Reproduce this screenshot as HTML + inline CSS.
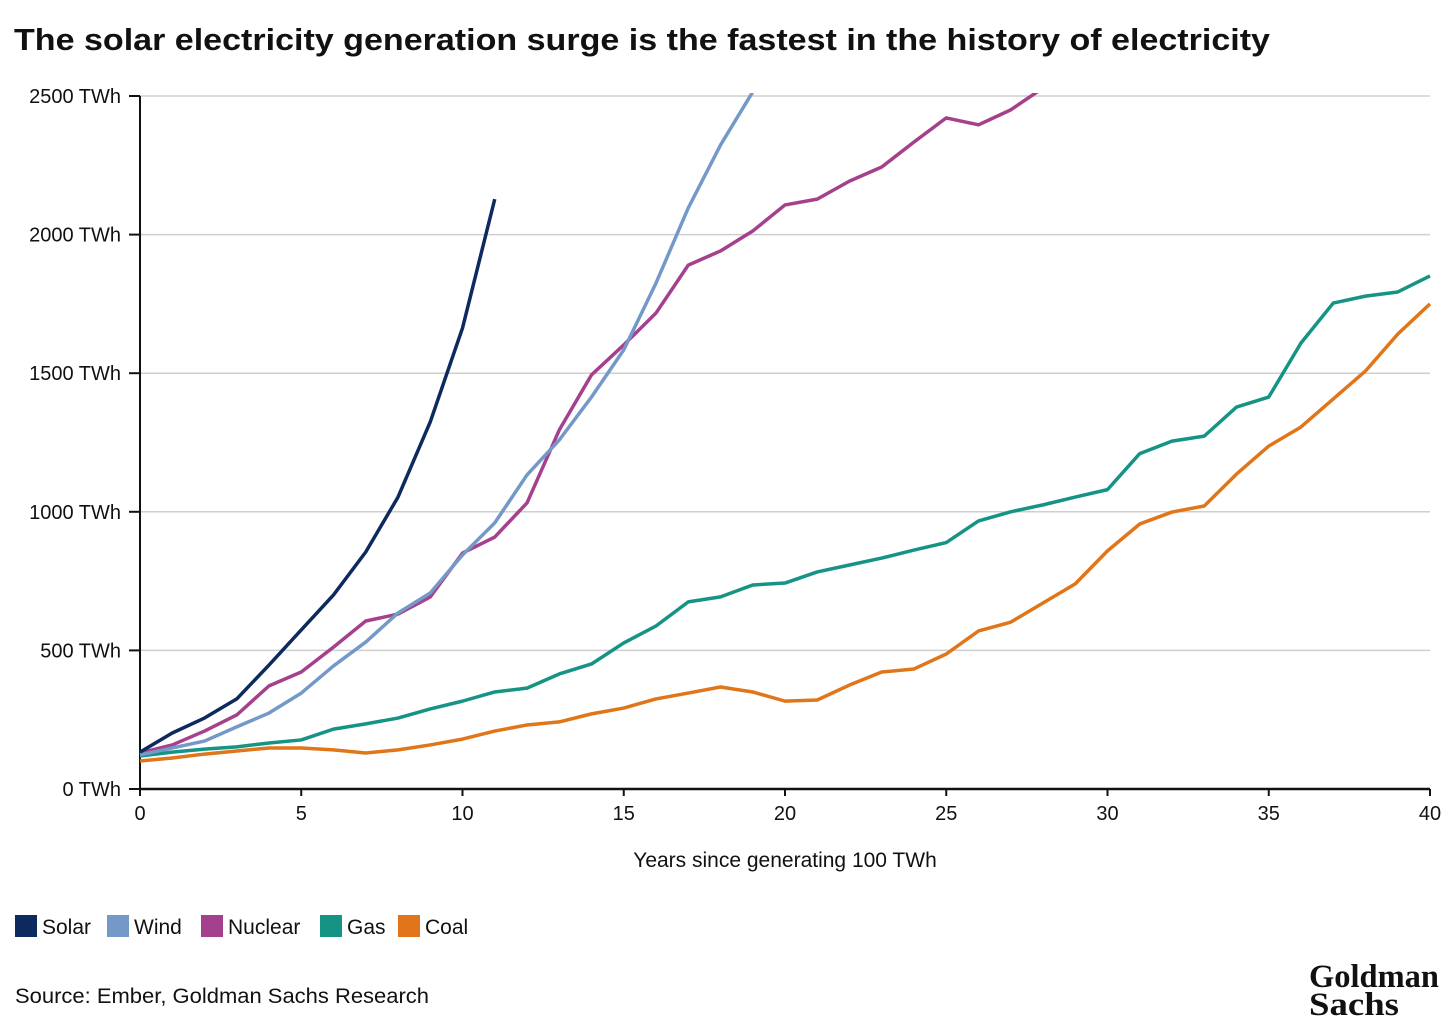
<!DOCTYPE html>
<html><head><meta charset="utf-8"><style>
html,body{margin:0;padding:0;background:#fff;width:1456px;height:1035px;overflow:hidden;font-family:"Liberation Sans",sans-serif;}
</style></head><body>
<svg id="chart" width="1456" height="1035" xmlns="http://www.w3.org/2000/svg">
<text x="14" y="50" font-size="31" font-weight="bold" fill="#111" textLength="1256" lengthAdjust="spacingAndGlyphs">The solar electricity generation surge is the fastest in the history of electricity</text>
<defs><clipPath id="clip"><rect x="138" y="93" width="1300" height="700"/></clipPath></defs>
<g id="grid"></g><g id="axes"></g><g id="lines" clip-path="url(#clip)"></g>
<text x="785" y="867" font-size="21" text-anchor="middle" fill="#111">Years since generating 100 TWh</text>
<g id="legend"></g>
<text x="15" y="1003" font-size="21" fill="#111" textLength="414" lengthAdjust="spacingAndGlyphs">Source: Ember, Goldman Sachs Research</text>
<g font-family="'Liberation Serif',serif" font-weight="bold" font-size="33" fill="#111">
<text x="1309" y="987" textLength="130" lengthAdjust="spacingAndGlyphs">Goldman</text>
<text x="1309" y="1015" textLength="90" lengthAdjust="spacingAndGlyphs">Sachs</text>
</g>
</svg>
<script>
const years=[...Array(41).keys()];
const yTicks=[0,500,1000,1500,2000,2500];
const xTicks=[0,5,10,15,20,25,30,35,40];
const seriesNames=["Solar","Wind","Nuclear","Gas","Coal"];
const seriesColors=["#0d2a5e","#7499c8","#a5408d","#159485","#e07619"];
const solar=[133,202,256,325,447,574,700,855,1053,1324,1663,2128];
const wind=[123,148,173,224,274,346,444,530,635,707,844,960,1133,1259,1414,1584,1825,2096,2323,2515];
const nuclear=[130,159,209,267,372,422,512,606,631,693,851,909,1032,1295,1494,1602,1717,1890,1941,2013,2107,2128,2193,2244,2334,2421,2396,2450,2529];
const gas=[119,133,144,152,166,177,216,235,256,289,317,350,364,415,451,527,588,675,693,736,743,783,808,833,862,889,967,1000,1025,1053,1080,1210,1255,1273,1378,1414,1609,1753,1778,1793,1851];
const coal=[101,112,126,137,148,148,141,130,141,159,180,209,231,242,271,292,325,346,368,350,317,321,375,422,433,487,570,602,671,740,859,956,999,1021,1136,1237,1306,1407,1508,1641,1750];
const allSeries=[solar,wind,nuclear,gas,coal];
const NS="http://www.w3.org/2000/svg";
const X=v=>140+v*(1430-140)/40;
const Y=v=>789-v*(789-96)/2500;
function mk(tag,attrs,parent){const e=document.createElementNS(NS,tag);for(const k in attrs)e.setAttribute(k,attrs[k]);parent.appendChild(e);return e;}
const grid=document.getElementById('grid'),axes=document.getElementById('axes'),lines=document.getElementById('lines'),legend=document.getElementById('legend');
yTicks.forEach(t=>{
 if(t>0){const g=mk('line',{x1:140,x2:1430,y1:Y(t),y2:Y(t),stroke:'#cfcfcf','stroke-width':1.5},grid);
 
 }
 const tk=mk('line',{x1:129,x2:140,y1:Y(t),y2:Y(t),stroke:'#111','stroke-width':2},axes);
 
 
 const tx=mk('text',{x:121,y:Y(t)+7,'font-size':20,'text-anchor':'end',fill:'#111'},axes);tx.textContent=t+' TWh';
 
 
});
xTicks.forEach(t=>{
 const tk=mk('line',{x1:X(t),x2:X(t),y1:789,y2:796,stroke:'#111','stroke-width':2},axes);
 
 
 const tx=mk('text',{x:X(t),y:820,'font-size':20,'text-anchor':'middle',fill:'#111'},axes);tx.textContent=t;
 
 
});
const ya=mk('line',{x1:140,x2:140,y1:96,y2:790,stroke:'#111','stroke-width':2},axes);


const xa=mk('line',{x1:139,x2:1430,y1:789,y2:789,stroke:'#111','stroke-width':2.5},axes);


[4,3,2,1,0].forEach(i=>{
 const d=allSeries[i].map((v,j)=>(j?'L':'M')+X(years[j])+','+Y(v)).join(' ');
 const p=mk('path',{d:d,fill:'none',stroke:seriesColors[i],'stroke-width':3.5,'stroke-linejoin':'round'},lines);
 
 
});
const legendX=[15,107,201,320,398];
seriesNames.forEach((n,i)=>{
 const g=mk('g',{},legend);
 
 
 mk('rect',{x:legendX[i],y:915,width:22,height:22,fill:seriesColors[i]},g);
 const t=mk('text',{x:legendX[i]+27,y:934,'font-size':21,fill:'#111'},g);t.textContent=n;
});
</script>
</body></html>
